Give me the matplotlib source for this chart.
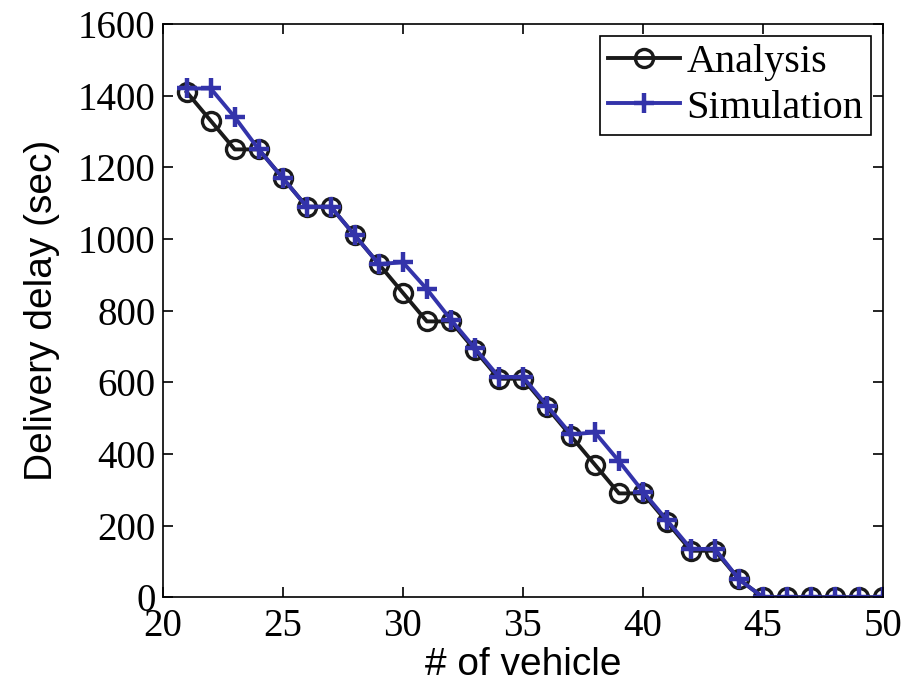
import matplotlib
matplotlib.use("Agg")
import matplotlib.pyplot as plt

vehicles = list(range(21, 51))
analysis = [1410, 1330, 1250, 1250, 1170, 1090, 1090, 1010, 930, 850,
            770, 770, 690, 610, 610, 530, 450, 370, 290, 290,
            210, 130, 130, 50, 0, 0, 0, 0, 0, 0]
simulation = [1420, 1420, 1340, 1250, 1170, 1090, 1090, 1010, 930, 935,
              860, 775, 695, 615, 615, 535, 455, 460, 380, 295,
              215, 135, 135, 50, 0, 0, 0, 0, 0, 0]

fig = plt.figure(figsize=(9.19, 6.85), dpi=100)
ax = fig.add_axes([0.177, 0.128, 0.784, 0.837])

ax.plot(vehicles, analysis, color="#1a1a1a", lw=2.8, marker="o", ms=13,
        mfc="none", mew=2.4, label="Analysis")
ax.plot(vehicles, simulation, color="#3333aa", lw=2.8, marker="+", ms=14,
        mew=3.2, label="Simulation")

ax.set_xlim(20, 50)
ax.set_ylim(0, 1600)
ax.set_xticks(range(20, 51, 5))
ax.set_yticks(range(0, 1601, 200))
ax.tick_params(direction="in", top=True, right=True, length=7, width=1.2,
               labelsize=28)
ax.tick_params(axis="y", pad=5)
ax.tick_params(axis="x", pad=8)
for lab in ax.get_xticklabels() + ax.get_yticklabels():
    lab.set_fontfamily("Liberation Serif")
for s in ax.spines.values():
    s.set_linewidth(1.2)

ax.set_xlabel("# of vehicle", fontsize=28, family="Liberation Sans", labelpad=1)
ax.set_ylabel("Delivery delay (sec)", fontsize=28, family="Liberation Sans", labelpad=13)

leg = ax.legend(loc="upper right", prop={"family": "Liberation Serif", "size": 29},
                fancybox=False, edgecolor="black", framealpha=1,
                handlelength=1.8, handletextpad=0.15, borderpad=0.2,
                labelspacing=0.2, borderaxespad=0.3)
leg.get_frame().set_linewidth(1.2)

fig.savefig("out.png", dpi=100)
